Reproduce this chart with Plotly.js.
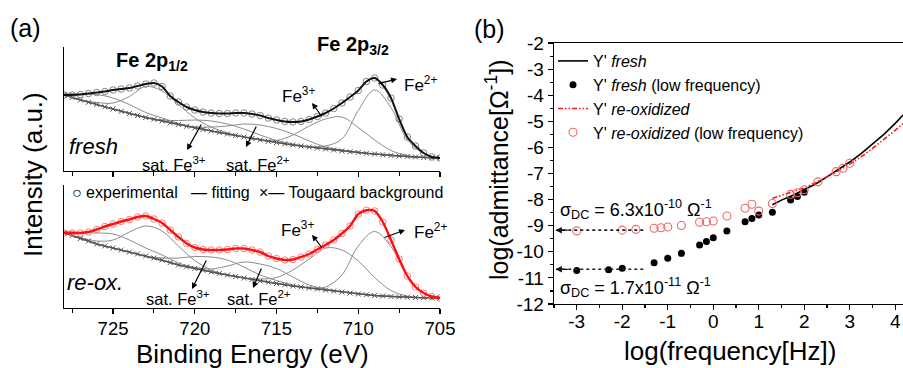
<!DOCTYPE html>
<html><head><meta charset="utf-8">
<script src="https://cdn.plot.ly/plotly-3.0.1.min.js"></script>
<style>html,body{margin:0;padding:0;background:#fff}#chart{width:903px;height:368px}</style>
</head><body><div id="chart"></div>
<script>
// ---------- Panel (a): Fe 2p XPS (intensity in arbitrary units) ----------
const energy = [728,727.5,727,726.5,726,725.5,725,724.5,724,723.5,723,722.5,722,721.5,721,720.5,720,719.5,719,718.5,718,717.5,717,716.5,716,715.5,715,714.5,714,713.5,713,712.5,712,711.5,711,710.5,710,709.5,709,708.5,708,707.5,707,706.5,706,705.5,705];
const freshExp = [76,76,76.5,77.5,78.5,79.5,81,82,83,85,87,88,84.5,75,69,64,61,59,58,57.5,57.5,58,58,57,55.5,53,51,49.5,49,49.5,51.5,54.5,58,62.5,68,74,80.5,89.5,93,86,73,52,34,25,18,14,13];
const freshBg = [76,73.5,71,68.7,66.5,64.2,62,59.7,57.5,55.5,53.5,51.7,50,48.2,46.5,44.7,43,41.5,40,38.5,37,35.5,34,32.5,31,29.7,28.5,27.2,26,25,24,23,22,21,20,19.2,18.5,17.7,17,16.2,15.5,15,14.5,14,13.5,13.2,13];
const reoxExp = [75,75,75,76,78.5,81.5,84,86.5,88.5,91,92,89,85,78,71,64.5,60.5,58.5,58,58,58.5,59.5,59.5,58,56,52,49.5,48,48.5,51,54,58.5,63,68,74.5,82,94,97.8,97,86,68,49,32,21,15,11.5,10];
const reoxBg = [75,72.5,69.5,67,64,62,60,58,56,54,52,50,48,45.5,43,41.2,39.5,37.7,36,34.5,33,31.5,30,28.5,27,25.7,24.5,23.2,22,21,20,19,18,17,16,15,14,13.2,12.5,12,11.5,11.1,10.8,10.5,10.3,10.1,10];
// fitted component heights above the Tougaard background
const compEnergy = [728,727,726,725,724,723,722,721,720,719,718,717,716,715,714,713,712,711,710,709,708,707,706,705];
const freshFe3p12 = [2,6,10,11,9,5,3,1,0,0,0,0,0,0,0,0,0,0,0,0,0,0,0,0];
const freshFe2p12 = [0,0,2,6,17,31,30,20,10,4,1,0,0,0,0,0,0,0,0,0,0,0,0,0];
const freshSatFe3 = [0,0,0,0,0,0,1,4,8,10,10,8,5,2,1,0,0,0,0,0,0,0,0,0];
const freshSatFe2 = [0,0,0,0,0,0,0,0,1,4,8,13,15,14,11,6,2,1,0,0,0,0,0,0];
const freshFe3p32 = [0,0,0,0,0,0,0,0,0,0,0,0,0,2,10,21,30,34,25,14,5,1,0,0];
const freshFe2p32 = [0,0,0,0,0,0,0,0,0,0,0,0,0,0,0,0,3,12,42,64,48,17,4,0];
const reoxFe3p12 = [2,6,11,14,12,8,5,2,1,0,0,0,0,0,0,0,0,0,0,0,0,0,0,0];
const reoxFe2p12 = [0,1,3,8,20,30,29,19,8,2,0,0,0,0,0,0,0,0,0,0,0,0,0,0];
const reoxSatFe3 = [0,0,0,0,0,0,2,7,12,15,15,11,6,3,1,0,0,0,0,0,0,0,0,0];
const reoxSatFe2 = [0,0,0,0,0,0,0,0,1,3,9,16,17,15,9,3,1,0,0,0,0,0,0,0];
const reoxFe3p32 = [0,0,0,0,0,0,0,0,0,0,0,0,2,6,16,29,42,42,33,18,6,1,0,0];
const reoxFe2p32 = [0,0,0,0,0,0,0,0,0,0,0,0,0,0,0,0,3,17,48,64,50,22,5,0];
const beTickVals = [725,720,715,710,705];
const beTickText = ["725","720","715","710","705"];

// ---------- Panel (b): admittance ----------
const lineFreq = [1.3,1.5,1.75,2,2.25,2.5,2.75,3,3.25,3.5,3.75,4,4.25];
const freshLine = [-8.2,-8.02,-7.83,-7.63,-7.4,-7.13,-6.86,-6.56,-6.24,-5.88,-5.5,-5.08,-4.62];
const reoxLine = [-7.95,-7.84,-7.7,-7.55,-7.35,-7.13,-6.9,-6.64,-6.36,-6.04,-5.71,-5.35,-4.97];
const freshLowFreq = [-3,-2.3,-2,-1.3,-1,-0.7,-0.3,-0.15,0,0.3,0.7,0.85,1,1.3,1.7,1.85,2];
const freshLowY = [-10.72,-10.69,-10.63,-10.42,-10.25,-10.06,-9.74,-9.61,-9.46,-9.2,-8.85,-8.72,-8.59,-8.48,-8.02,-7.88,-7.72];
const reoxLowFreq = [-3,-2,-1.7,-1.3,-1.15,-1,-0.7,-0.3,-0.15,0,0.3,0.7,0.85,1,1.3,1.7,1.85,2,2.3,2.7,2.85,3];
const reoxLowY = [-9.2,-9.17,-9.14,-9.1,-9.08,-9.05,-8.99,-8.87,-8.85,-8.82,-8.63,-8.33,-8.18,-8.44,-8.15,-7.8,-7.74,-7.62,-7.32,-6.93,-6.8,-6.61];
const dcLevels = [-9.17, -10.67];
const fTickVals = [-3,-2,-1,0,1,2,3,4];
const fTickText = ["-3","-2","-1","0","1","2","3","4"];
const aTickVals = [-12,-11,-10,-9,-8,-7,-6,-5,-4,-3,-2];
const aTickText = ["-12","-11","-10","-9","-8","-7","-6","-5","-4","-3","-2"];

const FONT = "Liberation Sans, Arial, Helvetica, sans-serif";
const W = 903, H = 368;
const px = x => x / W, py = y => 1 - y / H;

function onBg(bg, comp) {
  return compEnergy.map((e, i) => bg[energy.indexOf(e)] + comp[i]);
}
const traces = [];
function addSpectrum(xa, ya, exp, bg, comps, expColor, fitColor, fitWidth) {
  comps.forEach(c => traces.push({x: compEnergy, y: onBg(bg, c), xaxis: xa, yaxis: ya, mode: 'lines',
    line: {color: '#8c8c8c', width: 1, shape: 'spline', smoothing: 1}, showlegend: false, hoverinfo: 'skip'}));
  traces.push({x: energy, y: bg, xaxis: xa, yaxis: ya, mode: 'lines+markers',
    line: {color: '#555', width: 1.4}, marker: {symbol: 'x-thin-open', size: 5, line: {color: '#777', width: 1}},
    showlegend: false, hoverinfo: 'skip'});
  traces.push({x: energy, y: exp, xaxis: xa, yaxis: ya, mode: 'markers',
    marker: {symbol: 'circle-open', size: 6.5, color: expColor, line: {width: 1}}, showlegend: false, hoverinfo: 'skip'});
  traces.push({x: energy, y: exp, xaxis: xa, yaxis: ya, mode: 'lines',
    line: {color: fitColor, width: fitWidth, shape: 'spline', smoothing: 0.8}, showlegend: false, hoverinfo: 'skip'});
}
addSpectrum('x', 'y', freshExp, freshBg,
  [freshFe3p12, freshFe2p12, freshSatFe3, freshSatFe2, freshFe3p32, freshFe2p32], '#858585', '#111', 2);
addSpectrum('x2', 'y2', reoxExp, reoxBg,
  [reoxFe3p12, reoxFe2p12, reoxSatFe3, reoxSatFe2, reoxFe3p32, reoxFe2p32], '#ff7a7a', '#ff1010', 2.4);

// panel b
traces.push({x: lineFreq, y: freshLine, xaxis: 'x3', yaxis: 'y3', mode: 'lines', name: "Y' <i>fresh</i>",
  line: {color: '#000', width: 1.6}});
traces.push({x: freshLowFreq, y: freshLowY, xaxis: 'x3', yaxis: 'y3', mode: 'markers', name: "Y' <i>fresh</i> (low frequency)",
  marker: {symbol: 'circle', size: 7, color: '#000'}});
traces.push({x: lineFreq, y: reoxLine, xaxis: 'x3', yaxis: 'y3', mode: 'lines', name: "Y' <i>re-oxidized</i>",
  line: {color: '#ff1a1a', width: 1.6, dash: '5px,2px,1.5px,2px,1.5px,2px'}});
traces.push({x: reoxLowFreq, y: reoxLowY, xaxis: 'x3', yaxis: 'y3', mode: 'markers', name: "Y' <i>re-oxidized</i> (low frequency)",
  marker: {symbol: 'circle-open', size: 8, color: '#f26565', line: {width: 1.1}}});
dcLevels.forEach(v => traces.push({x: [-3.45, -1.5], y: [v, v], xaxis: 'x3', yaxis: 'y3', mode: 'lines',
  line: {color: '#222', width: 1.6, dash: 'dot'}, showlegend: false, hoverinfo: 'skip'}));

function label(text, x, y, size, extra) {
  return Object.assign({text, x: px(x), y: py(y), xref: 'paper', yref: 'paper', showarrow: false,
    font: {family: FONT, size, color: '#000'}, xanchor: 'center', yanchor: 'middle'}, extra || {});
}
function arrow(tipX, tipY, tailX, tailY) {
  return {text: '', x: px(tipX), y: py(tipY), xref: 'paper', yref: 'paper', ax: tailX - tipX, ay: tailY - tipY,
    showarrow: true, arrowhead: 2, arrowsize: 1, arrowwidth: 1.2, arrowcolor: '#000', standoff: 0, startstandoff: 0};
}
const annotations = [
  label('(a)', 25, 28, 25), label('(b)', 489, 29, 25),
  label('<b>Fe 2p<sub>1/2</sub></b>', 152, 61, 20),
  label('<b>Fe 2p<sub>3/2</sub></b>', 353, 45, 20),
  label('Fe<sup>2+</sup>', 420, 84, 17), label('Fe<sup>3+</sup>', 298, 95, 17),
  label('<i>fresh</i>', 93, 147, 22),
  label('sat. Fe<sup>3+</sup>', 174, 164, 16.5), label('sat. Fe<sup>2+</sup>', 258, 164, 16.5),
  label('Fe<sup>3+</sup>', 297, 229, 17), label('Fe<sup>2+</sup>', 430, 231, 17),
  label('<i>re-ox.</i>', 95, 282, 22),
  label('sat. Fe<sup>3+</sup>', 178, 298, 16.5), label('sat. Fe<sup>2+</sup>', 259, 298, 16.5),
  label('○ experimental', 70, 192, 16, {xanchor: 'left'}),
  label('— fitting', 189, 192, 16, {xanchor: 'left'}),
  label('×— Tougaard background', 257, 192, 16, {xanchor: 'left'}),
  arrow(397, 79, 377, 84), arrow(312, 103, 323, 118), arrow(187, 150, 202, 123), arrow(246, 147, 257, 125),
  arrow(405, 230, 383, 238), arrow(312, 235, 323, 249), arrow(192, 289, 207, 259), arrow(253, 288, 262, 267),
  label('Intensity (a.u.)', 33, 175, 26, {textangle: -90}),
  label('Binding Energy (eV)', 252, 354, 26),
  label('log(frequency[Hz])', 730, 351, 26),
  label('log(admittance[Ω<sup>-1</sup>])', 497, 170, 25, {textangle: -90}),
  label('σ<sub>DC</sub> = 6.3x10<sup>-10</sup> Ω<sup>-1</sup>', 558, 209, 18, {xanchor: 'left'}),
  label('σ<sub>DC</sub> = 1.7x10<sup>-11</sup> Ω<sup>-1</sup>', 558, 287, 18, {xanchor: 'left'})
];
dcLevels.forEach(v => annotations.push({text: '', x: -3.47, y: v, xref: 'x3', yref: 'y3', ax: 14, ay: 0,
  showarrow: true, arrowhead: 2, arrowsize: 1, arrowwidth: 1.3, arrowcolor: '#111', standoff: 0}));

const baseAxis = {showline: true, linecolor: '#000', linewidth: 1.3, showgrid: false, zeroline: false,
  tickfont: {family: FONT, size: 18.5, color: '#000'}, tickcolor: '#000', fixedrange: true};
const beAxis = Object.assign({}, baseAxis, {domain: [px(64), px(440)], range: [728, 705], ticks: 'outside', ticklen: 5,
  tickwidth: 1.2, tickmode: 'array', tickvals: beTickVals, ticktext: beTickText, ticklabelstandoff: -2,
  minor: {tick0: 705, dtick: 2.5, ticks: 'outside', ticklen: 4, tickcolor: '#000', tickwidth: 1.1}});
const layout = {
  width: W, height: H, margin: {l: 0, r: 0, t: 0, b: 0}, paper_bgcolor: '#fff', plot_bgcolor: 'rgba(0,0,0,0)',
  font: {family: FONT, color: '#000'},
  xaxis: Object.assign({}, beAxis, {anchor: 'y', showticklabels: false}),
  yaxis: Object.assign({}, baseAxis, {domain: [py(171), py(47)], range: [0, 124], anchor: 'x', ticks: '', showticklabels: false}),
  xaxis2: Object.assign({}, beAxis, {anchor: 'y2', matches: 'x', showticklabels: true}),
  yaxis2: Object.assign({}, baseAxis, {domain: [py(308), py(185)], range: [0, 123], anchor: 'x2', ticks: '', showticklabels: false}),
  xaxis3: Object.assign({}, baseAxis, {domain: [px(554), 1], range: [-3.5, 4.171], anchor: 'y3', mirror: true,
    ticks: 'outside', ticklen: 5, tickwidth: 1.2, tickmode: 'array', tickvals: fTickVals, ticktext: fTickText,
    tickfont: {family: FONT, size: 19, color: '#000'}, ticklabelstandoff: -5,
    minor: {tick0: 0, dtick: 0.5, ticks: 'outside', ticklen: 3, tickcolor: '#000', tickwidth: 1.1}}),
  yaxis3: Object.assign({}, baseAxis, {domain: [py(304), py(43)], range: [-12, -2], anchor: 'x3',
    ticks: 'outside', ticklen: 5, tickwidth: 1.2, tickmode: 'array', tickvals: aTickVals, ticktext: aTickText,
    tickfont: {family: FONT, size: 19, color: '#000'},
    minor: {tick0: 0, dtick: 0.5, ticks: 'outside', ticklen: 3, tickcolor: '#000', tickwidth: 1.1}}),
  showlegend: true,
  legend: {x: px(553), y: py(44), xanchor: 'left', yanchor: 'top', bgcolor: 'rgba(0,0,0,0)', borderwidth: 0,
    font: {family: FONT, size: 16, color: '#000'}, itemwidth: 30, tracegroupgap: 0},
  annotations
};
Plotly.newPlot('chart', traces, layout, {displayModeBar: false, staticPlot: true});
</script></body></html>
